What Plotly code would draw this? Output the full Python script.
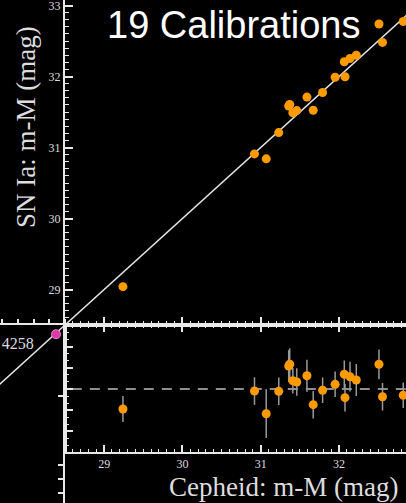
import plotly.graph_objects as go

W, H = 406, 503

# ---- data ----
cepheid_mu = [29.24, 30.92, 31.07, 31.23, 31.357, 31.37, 31.41, 31.46, 31.59, 31.67,
              31.79, 31.95, 32.076, 32.067, 32.14, 32.22, 32.51, 32.555, 32.82]
sn_mu = [29.04, 30.91, 30.84, 31.21, 31.585, 31.606, 31.49, 31.52, 31.71, 31.525,
         31.775, 31.99, 31.996, 32.207, 32.254, 32.30, 32.74, 32.48, 32.775]
resid = [-0.189, -0.019, -0.233, -0.022, 0.217, 0.233, 0.078, 0.066, 0.125, -0.148,
         -0.012, 0.044, -0.082, 0.139, 0.116, 0.085, 0.233, -0.073, -0.059]
resid_err = [0.123, 0.13, 0.23, 0.13, 0.15, 0.15, 0.12, 0.13, 0.15, 0.13,
             0.12, 0.12, 0.13, 0.13, 0.14, 0.15, 0.14, 0.13, 0.12]
anchor_name = "NGC 4258"
anchor_x = [28.385]
anchor_y = [28.37]
line_x = [27.0, 33.5]
line_y = [27.0, 33.5]
x_ticks = [29, 30, 31, 32]

# ---- geometry helpers (pixel -> paper) ----
def px(x):
    return x / W

def py(y):
    return 1 - y / H

AX_X = 65
TOP_BOT = 325
BOT_BOT = 452
XSCALE = 78.3
YSCALE = 71.0
RSCALE = 106.0
ZERO_Y = 389

x_range = [28.5, 28.5 + (W - AX_X) / XSCALE]
y_range = [28.5, 28.5 + TOP_BOT / YSCALE]
r_range = [-(BOT_BOT - ZERO_Y) / RSCALE, (ZERO_Y - TOP_BOT) / RSCALE]

AXC = "#e8e8e8"
TXT = "#dddddd"
ORANGE = "#ff9a00"
SERIF = "Liberation Serif, Times New Roman, serif"

fig = go.Figure()

# top panel: identity line + points
fig.add_trace(go.Scatter(x=line_x, y=line_y, mode="lines",
                         line=dict(color="#e6e6e6", width=1.5),
                         xaxis="x", yaxis="y", hoverinfo="skip", showlegend=False))
fig.add_trace(go.Scatter(x=cepheid_mu, y=sn_mu, mode="markers",
                         marker=dict(color=ORANGE, size=9, line=dict(width=0)),
                         xaxis="x", yaxis="y", showlegend=False))

# left panel: identity line continuation + anchor
fig.add_trace(go.Scatter(x=line_x, y=line_y, mode="lines",
                         line=dict(color="#e6e6e6", width=1.5),
                         xaxis="x3", yaxis="y3", hoverinfo="skip", showlegend=False))
fig.add_trace(go.Scatter(x=anchor_x, y=anchor_y, mode="markers",
                         marker=dict(color="#d83aa8", size=9,
                                     line=dict(color="#f080d0", width=1)),
                         xaxis="x3", yaxis="y3", showlegend=False))

# bottom panel: residuals
fig.add_trace(go.Scatter(x=cepheid_mu, y=resid, mode="markers",
                         marker=dict(color=ORANGE, size=9, line=dict(width=0)),
                         error_y=dict(type="data", array=resid_err, color="#9a9a9a",
                                      thickness=1.5, width=0),
                         xaxis="x2", yaxis="y2", showlegend=False))

# dummy trace for the lower-left axis
fig.add_trace(go.Scatter(x=[0], y=[0], mode="markers", marker=dict(opacity=0),
                         xaxis="x4", yaxis="y4", showlegend=False, hoverinfo="skip"))

common = dict(showgrid=False, zeroline=False, showline=True, linecolor=AXC,
              linewidth=2, tickcolor=AXC)

fig.update_layout(
    width=W, height=H,
    margin=dict(l=0, r=0, t=0, b=0),
    paper_bgcolor="black", plot_bgcolor="rgba(0,0,0,0)",
    showlegend=False,
    xaxis=dict(domain=[px(AX_X), 1], range=x_range, anchor="y",
               ticks="inside", tickmode="array", tickvals=x_ticks, ticklen=8,
               tickwidth=1.5, showticklabels=False,
               minor=dict(dtick=0.1, ticks="inside", ticklen=4, tickcolor=AXC,
                          tickwidth=1), **common),
    yaxis=dict(domain=[py(TOP_BOT), 1], range=y_range, anchor="x",
               ticks="inside", dtick=1, ticklen=8, tickwidth=1.5,
               ticklabeloverflow="allow",
               tickfont=dict(family=SERIF, size=12, color=TXT),
               minor=dict(dtick=0.1, ticks="inside", ticklen=4, tickcolor=AXC,
                          tickwidth=1), **common),
    xaxis2=dict(domain=[px(AX_X), 1], range=x_range, anchor="y2",
                ticks="inside", tickmode="array", tickvals=x_ticks, ticklen=7,
                tickwidth=1.5, mirror="ticks",
                tickfont=dict(family=SERIF, size=12, color=TXT),
                minor=dict(dtick=0.1, ticks="inside", ticklen=3, tickcolor=AXC,
                           tickwidth=1), **common),
    yaxis2=dict(domain=[py(BOT_BOT), py(TOP_BOT)], range=r_range, anchor="x2",
                ticks="inside", dtick=0.2, tick0=0, ticklen=8, tickwidth=1.5,
                showticklabels=False,
                minor=dict(dtick=0.2 / 3, ticks="inside", ticklen=4,
                           tickcolor=AXC, tickwidth=1), **common),
    xaxis3=dict(domain=[0, px(AX_X)], range=[28.5 - AX_X / XSCALE, 28.5],
                anchor="y3", side="top", ticks="outside", dtick=0.2, tick0=27.9,
                ticklen=4, tickwidth=1.5, showticklabels=False, **common),
    yaxis3=dict(domain=[py(BOT_BOT), py(TOP_BOT)],
                range=[28.5 - (BOT_BOT - TOP_BOT) / YSCALE, 28.5],
                anchor="x3", side="right", ticks="inside", dtick=1, tick0=27.5,
                ticklen=7, tickwidth=1.5, showticklabels=False, **common),
    xaxis4=dict(domain=[px(AX_X), 1], range=[0, 1], anchor="y4", visible=False),
    yaxis4=dict(domain=[0, py(BOT_BOT)], range=[0, H - BOT_BOT],
                anchor="x4", ticks="outside", tickmode="array",
                tickvals=[10, 24, 38], ticklen=5, tickwidth=1.5,
                showticklabels=False, **common),
    shapes=[dict(type="line", xref="x2 domain", yref="y2", x0=0.02, x1=1,
                 y0=0, y1=0, line=dict(color="#bdbdbd", width=1.5,
                                       dash="10px,8px"), layer="below")],
    annotations=[
        dict(text="19 Calibrations", xref="paper", yref="paper",
             x=px(233), y=py(25), xanchor="center", yanchor="middle",
             showarrow=False,
             font=dict(family="Liberation Sans, Arial, sans-serif", size=38,
                       color="white")),
        dict(text="SN Ia: m-M (mag)", xref="paper", yref="paper",
             x=px(26), y=py(127), xanchor="center", yanchor="middle",
             textangle=-90, showarrow=False,
             font=dict(family=SERIF, size=27, color=TXT)),
        dict(text="Cepheid: m-M (mag)", xref="paper", yref="paper",
             x=px(283), y=py(487), xanchor="center", yanchor="middle",
             showarrow=False, font=dict(family=SERIF, size=27, color=TXT)),
        dict(text=anchor_name, xref="paper", yref="paper",
             x=px(36), y=py(343), xanchor="right", yanchor="middle",
             showarrow=False, font=dict(family=SERIF, size=16, color=TXT)),
    ],
)

fig.write_html(
    "out.html",
    config={"displayModeBar": False},
    post_script="document.body.style.margin='0';"
                "document.body.style.background='black';",
)
